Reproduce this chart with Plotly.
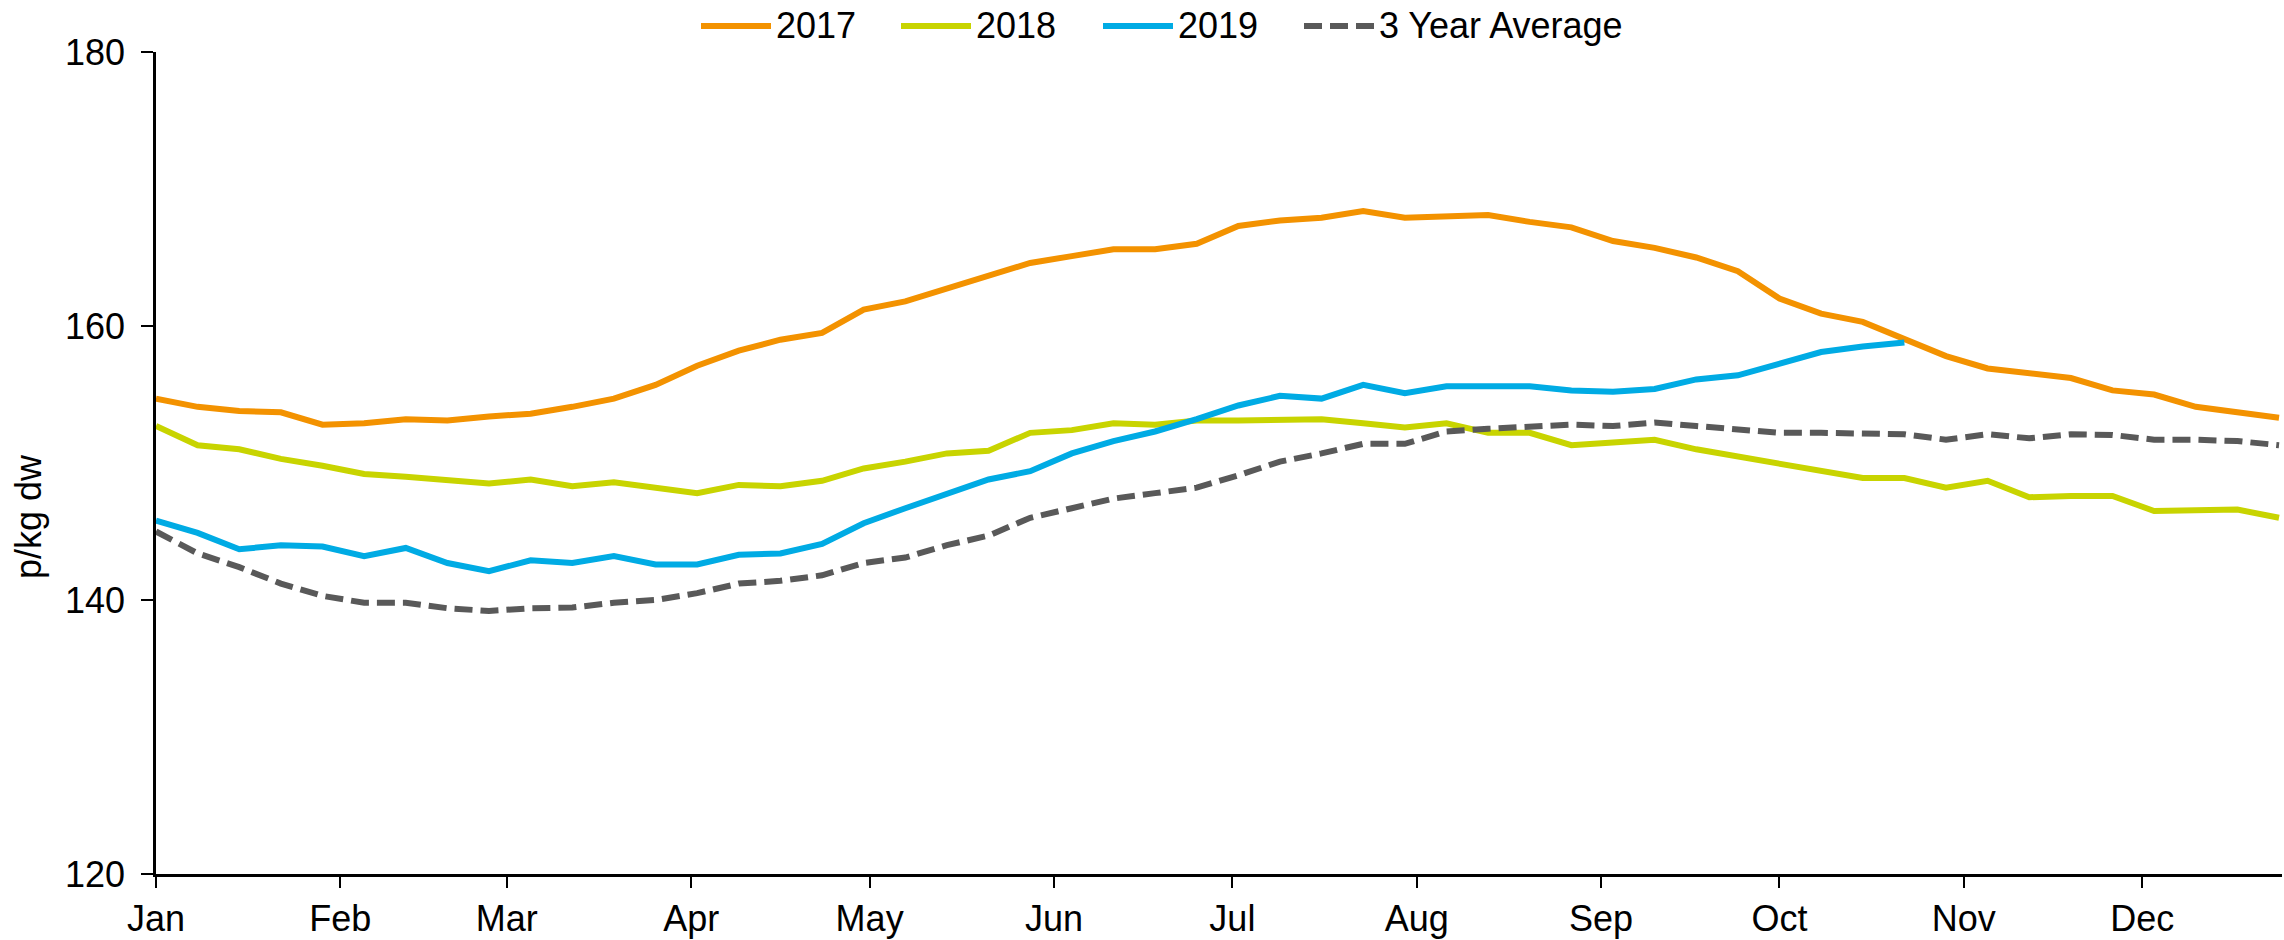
import pandas as pd
import plotly.graph_objects as go

# ---------------- data ----------------
week_dates = list(pd.date_range("2019-01-01", periods=52, freq="7D"))

series_names = ["2017", "2018", "2019", "3 Year Average"]

values_2017 = [154.7, 154.1, 153.8, 153.7, 152.8, 152.9, 153.2, 153.1, 153.4, 153.6,
               154.1, 154.7, 155.7, 157.1, 158.2, 159.0, 159.5, 161.2, 161.8, 162.7,
               163.7, 164.6, 165.1, 165.6, 165.6, 166.0, 167.3, 167.7, 167.9, 168.4,
               167.9, 168.0, 168.1, 167.6, 167.2, 166.2, 165.7, 165.0, 164.0, 162.0,
               160.9, 160.3, 159.1, 157.8, 156.9, 156.6, 156.2, 155.3, 155.0, 154.1,
               153.7, 153.3]

values_2018 = [152.7, 151.3, 151.0, 150.3, 149.8, 149.2, 149.0, 148.7, 148.5, 148.8,
               148.3, 148.6, 148.2, 147.8, 148.4, 148.3, 148.7, 149.6, 150.1, 150.7,
               150.9, 152.2, 152.4, 152.9, 152.8, 153.1, 153.1, 153.1, 153.2, 152.9,
               152.6, 152.9, 152.2, 152.2, 151.3, 151.5, 151.7, 151.0, 150.5, 150.0,
               149.4, 148.9, 148.9, 148.2, 148.7, 147.5, 147.6, 147.6, 146.5, 146.6,
               146.6, 146.0]

values_2019 = [145.8, 144.9, 143.7, 144.0, 143.9, 143.2, 143.8, 142.7, 142.1, 142.9,
               142.7, 143.2, 142.6, 142.6, 143.3, 143.4, 144.1, 145.6, 146.7, 147.8,
               148.8, 149.4, 150.7, 151.6, 152.3, 153.2, 154.2, 154.9, 154.7, 155.7,
               155.1, 155.6, 155.6, 155.6, 155.3, 155.2, 155.4, 156.1, 156.4, 157.3,
               158.1, 158.5, 158.8]

values_avg = [145.0, 143.4, 142.4, 141.2, 140.3, 139.8, 139.8, 139.4, 139.2, 139.4,
              139.45, 139.8, 140.0, 140.5, 141.2, 141.4, 141.8, 142.7, 143.1, 144.0,
              144.7, 146.0, 146.7, 147.4, 147.8, 148.2, 149.1, 150.1, 150.7, 151.4,
              151.4, 152.3, 152.5, 152.7, 152.8, 152.7, 152.95, 152.7, 152.4, 152.2,
              152.2, 152.1, 152.1, 151.7, 152.1, 151.8, 152.1, 152.05, 151.7, 151.7,
              151.6, 151.3]

y_ticks = [120, 140, 160, 180]
y_title = "p/kg dw"

# ---------------- style ----------------
colors = ["#F39200", "#C8D400", "#00ABE4", "#595959"]
dashes = ["solid", "solid", "solid", "18px,8px"]
FONT = "Liberation Sans, Arial, Helvetica, sans-serif"
FS = 36
LW = 6

W, H = 2284, 940
L, R, T, B = 156, 2, 52, 66
PW, PH = W - L - R, H - T - B


def px(x):
    return (x - L) / PW


def py(y):
    return (H - B - y) / PH


fig = go.Figure()
all_values = [values_2017, values_2018, values_2019, values_avg]
for name, vals, col, dsh in zip(series_names, all_values, colors, dashes):
    fig.add_trace(go.Scatter(
        x=week_dates[:len(vals)], y=vals, name=name, mode="lines",
        line=dict(color=col, width=LW, dash=dsh), showlegend=False,
    ))

# custom legend (long line samples as in the reference)
legend_start = [701, 901, 1103, 1304]
sample_len = 70
legend_y = 26
for name, col, dsh, x0 in zip(series_names, colors, dashes, legend_start):
    fig.add_shape(type="line", xref="paper", yref="paper",
                  x0=px(x0), x1=px(x0 + sample_len), y0=py(legend_y), y1=py(legend_y),
                  line=dict(color=col, width=LW, dash=dsh))
    fig.add_annotation(xref="paper", yref="paper", x=px(x0 + sample_len + 3), y=py(legend_y),
                       text=name, showarrow=False, xanchor="left", yanchor="middle",
                       font=dict(family=FONT, size=FS, color="black"))

# y-axis title
fig.add_annotation(xref="paper", yref="paper", x=px(28), y=py(517), text=y_title,
                   textangle=-90, showarrow=False, xanchor="center", yanchor="middle",
                   font=dict(family=FONT, size=FS, color="black"))

fig.update_layout(
    width=W, height=H,
    margin=dict(l=L, r=R, t=T, b=B, pad=0, autoexpand=False),
    paper_bgcolor="white", plot_bgcolor="white",
    font=dict(family=FONT, size=FS, color="black"),
    showlegend=False,
)
fig.update_xaxes(
    type="date", automargin=False,
    range=[week_dates[0], week_dates[-1] + pd.Timedelta(hours=12)],
    dtick="M1", tick0="2019-01-01", tickformat="%b",
    ticks="outside", ticklen=11, tickwidth=2, tickcolor="black",
    showline=True, linecolor="black", linewidth=2.5,
    showgrid=False, zeroline=False,
    tickfont=dict(family=FONT, size=FS, color="black"),
    ticklabelstandoff=0,
)
fig.update_yaxes(
    range=[120, 180], tickvals=y_ticks, automargin=False,
    ticks="outside", ticklen=12, tickwidth=2, tickcolor="black",
    showline=True, linecolor="black", linewidth=2.5,
    showgrid=False, zeroline=False,
    tickfont=dict(family=FONT, size=FS, color="black"),
    ticklabelstandoff=9,
)

fig.write_html("out.html", config={"displayModeBar": False},
               post_script="document.body.style.margin='0';document.body.style.overflow='hidden';")
